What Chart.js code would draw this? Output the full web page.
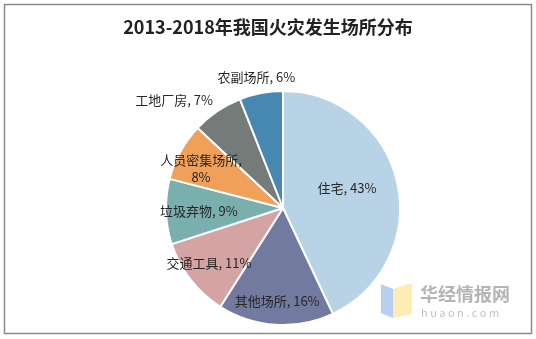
<!DOCTYPE html>
<html>
<head>
<meta charset="utf-8">
<script src="https://cdn.jsdelivr.net/npm/chart.js@4.4.1/dist/chart.umd.min.js"></script>
<style>
  html, body { margin: 0; padding: 0; background: #fff; }
  #wrap { width: 536px; height: 339px; position: relative; }
</style>
</head>
<body>
<div id="wrap"><canvas id="c" width="536" height="339"></canvas></div>
<script>
// 数据：2013-2018年我国火灾发生场所分布（%）
const places  = ['住宅', '其他场所', '交通工具', '垃圾弃物', '人员密集场所', '工地厂房', '农副场所'];
const shares  = [43, 16, 11, 9, 8, 7, 6];
const colors  = ['#b7d3e5', '#727b9f', '#d3a4a3', '#79b0ae', '#f1a05a', '#747b79', '#4788b3'];
const titleText = '2013-2018年我国火灾发生场所分布';

const FONT = "'Noto Sans CJK SC', 'Noto Sans', sans-serif";

// 标签位置：半径比例 + 微调
const labelPos = [
  { r: 0.56, dx: 0,   dy: -6, lines: 1 },
  { r: 0.80, dx: 0,   dy: 0,  lines: 1 },
  { r: 0.80, dx: 0,   dy: -2, lines: 1 },
  { r: 0.72, dx: 0,   dy: 0,  lines: 1 },
  { r: 0.80, dx: 0,   dy: 5,  lines: 2 },
  { r: 1.20, dx: -30, dy: 8,  lines: 1 },
  { r: 1.12, dx: -2,  dy: -2, lines: 1 },
];

const framePlugin = {
  id: 'frame',
  beforeDraw(chart) {
    const c = chart.ctx;
    c.save();
    c.fillStyle = '#fff';
    c.fillRect(0, 0, chart.width, chart.height);
    c.strokeStyle = '#8a8a8a';
    c.lineWidth = 1.5;
    c.strokeRect(4.5, 4.5, 527, 329);
    c.restore();
  },
  afterDraw(chart) {
    const c = chart.ctx;
    c.save();
    // 标题
    c.fillStyle = '#222';
    c.font = "bold 18px " + FONT;
    c.textAlign = 'center';
    c.textBaseline = 'middle';
    c.fillText(titleText, 268, 27);

    // 数据标签
    const meta = chart.getDatasetMeta(0);
    c.font = "13px " + FONT;
    c.fillStyle = '#262626';
    meta.data.forEach((arc, i) => {
      const mid = (arc.startAngle + arc.endAngle) / 2;
      const p = labelPos[i];
      const rr = arc.outerRadius * p.r;
      const x = arc.x + Math.cos(mid) * rr + p.dx;
      const y = arc.y + Math.sin(mid) * rr + p.dy;
      if (p.lines === 2) {
        c.fillText(places[i] + ',', x, y - 8);
        c.fillText(shares[i] + '%', x, y + 9);
      } else {
        c.fillText(places[i] + ', ' + shares[i] + '%', x, y);
      }
    });

    // 水印
    c.globalAlpha = 0.85;
    c.fillStyle = '#a9c8f0';
    c.beginPath();
    c.moveTo(381, 284); c.lineTo(393, 289); c.lineTo(393, 318); c.lineTo(381, 313); c.closePath();
    c.fill();
    c.fillStyle = '#fde9a6';
    c.beginPath();
    c.moveTo(393, 289); c.lineTo(412, 283); c.lineTo(412, 314); c.lineTo(393, 318); c.closePath();
    c.fill();
    c.globalAlpha = 1;
    c.fillStyle = '#b4b4b4';
    c.textAlign = 'left';
    c.font = "bold 18px " + FONT;
    c.fillText('华经情报网', 420, 294);
    c.font = "11px " + FONT;
    c.fillStyle = '#c2c2c2';
    c.fillText('h u a o n . c o m', 421, 313);
    c.restore();
  }
};

new Chart(document.getElementById('c'), {
  type: 'pie',
  data: {
    labels: places,
    datasets: [{
      data: shares,
      backgroundColor: colors,
      borderColor: '#ffffff',
      borderWidth: 2,
    }],
  },
  options: {
    responsive: false,
    animation: false,
    layout: { padding: { top: 90, bottom: 13, left: 165, right: 135 } },
    plugins: {
      legend: { display: false },
      tooltip: { enabled: false },
    },
  },
  plugins: [framePlugin],
});
</script>
</body>
</html>
